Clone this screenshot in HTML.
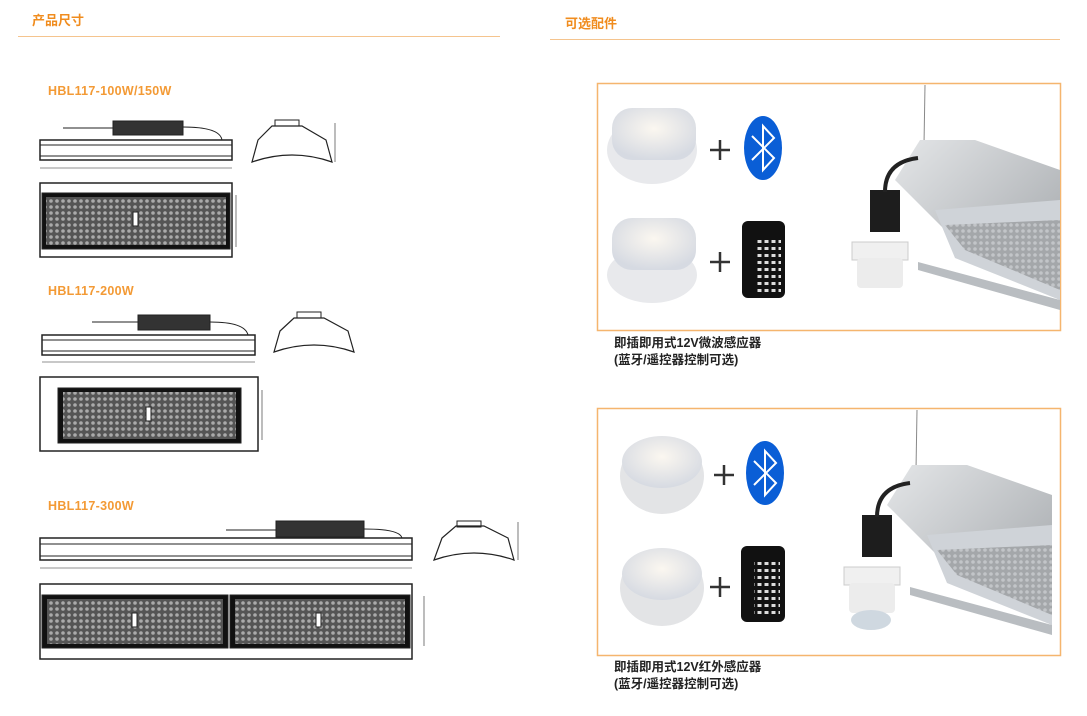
<!DOCTYPE html>
<html><head><meta charset="utf-8"><style>
body{margin:0;background:#fff;width:1087px;height:716px;overflow:hidden;position:relative;font-family:"Liberation Sans","Noto Sans CJK SC",sans-serif}
.t{position:absolute;color:#f08c1e;font-weight:bold;font-size:13px}
.m{position:absolute;color:#f39a35;font-weight:bold;font-size:12.5px;letter-spacing:.3px}
.c{position:absolute;color:#222;font-weight:bold;font-size:12.5px;line-height:17px}
</style></head><body>
<div class="t" style="left:32px;top:10px">产品尺寸</div>
<div class="t" style="left:565px;top:13px">可选配件</div>
<div class="m" style="left:48px;top:84px">HBL117-100W/150W</div>
<div class="m" style="left:48px;top:284px">HBL117-200W</div>
<div class="m" style="left:48px;top:499px">HBL117-300W</div>
<div class="c" style="left:614px;top:335px">即插即用式12V微波感应器<br>(蓝牙/遥控器控制可选)</div>
<div class="c" style="left:614px;top:659px">即插即用式12V红外感应器<br>(蓝牙/遥控器控制可选)</div>
<svg width="1087" height="716" style="position:absolute;left:0;top:0">
<defs>
<pattern id="led" width="6" height="6" patternUnits="userSpaceOnUse">
<rect width="6" height="6" fill="#555"/><circle cx="3" cy="3" r="1.8" fill="#aaa"/></pattern>
<pattern id="btn" width="7" height="7" patternUnits="userSpaceOnUse">
<rect width="7" height="7" fill="#111"/><rect x="1.5" y="2" width="4" height="3" fill="#ddd"/></pattern>
<radialGradient id="sen" cx="50%" cy="40%" r="60%"><stop offset="0" stop-color="#fbf7f0"/><stop offset="1" stop-color="#d6dae2"/></radialGradient>
<linearGradient id="met" x1="0" y1="0" x2="1" y2="1"><stop offset="0" stop-color="#e4e6e8"/><stop offset="1" stop-color="#9ea2a6"/></linearGradient>
</defs>
<line x1="18" y1="36.5" x2="500" y2="36.5" stroke="#f5c48e"/>
<line x1="550" y1="39.5" x2="1060" y2="39.5" stroke="#f5c48e"/>
<g fill="none" stroke="#222">
<rect x="113" y="121" width="70" height="14" fill="#333"/>
<line x1="63" y1="128" x2="113" y2="128"/><path d="M183 127 Q220 127 222 140"/>
<rect x="40" y="140" width="192" height="20" stroke-width="1.5"/><line x1="40" y1="145" x2="232" y2="145"/><line x1="40" y1="156" x2="232" y2="156"/>
<line x1="40" y1="168" x2="232" y2="168" stroke-width=".6"/>
<rect x="40" y="183" width="192" height="74" stroke-width="1.5"/>
<rect x="42" y="193" width="188" height="56" fill="#111"/>
<rect x="46" y="197" width="180" height="48" fill="url(#led)" stroke="none"/>
<rect x="133" y="212" width="5" height="14" fill="#fff"/>
<line x1="236" y1="195" x2="236" y2="247" stroke-width=".6"/>
<path d="M252 162 Q292 148 332 162 L326 140 L302 126 L272 126 L258 140 Z" stroke-width="1.2"/>
<rect x="275" y="120" width="24" height="6"/><line x1="335" y1="123" x2="335" y2="162" stroke-width=".6"/>
<rect x="138" y="315" width="72" height="15" fill="#333"/>
<line x1="92" y1="322" x2="138" y2="322"/><path d="M210 322 Q245 322 248 335"/>
<rect x="42" y="335" width="213" height="20" stroke-width="1.5"/><line x1="42" y1="340" x2="255" y2="340"/><line x1="42" y1="351" x2="255" y2="351"/>
<line x1="42" y1="362" x2="255" y2="362" stroke-width=".6"/>
<rect x="40" y="377" width="218" height="74" stroke-width="1.5"/>
<rect x="58" y="388" width="183" height="55" fill="#111"/>
<rect x="63" y="392" width="173" height="47" fill="url(#led)" stroke="none"/>
<rect x="146" y="407" width="5" height="14" fill="#fff"/>
<line x1="262" y1="390" x2="262" y2="440" stroke-width=".6"/>
<path d="M274 352 Q314 338 354 352 L348 331 L324 318 L294 318 L280 331 Z" stroke-width="1.2"/>
<rect x="297" y="312" width="24" height="6"/>
<rect x="276" y="521" width="88" height="16" fill="#333"/>
<line x1="226" y1="530" x2="276" y2="530"/><path d="M364 529 Q400 529 402 538"/>
<rect x="40" y="538" width="372" height="22" stroke-width="1.5"/><line x1="40" y1="544" x2="412" y2="544"/><line x1="40" y1="556" x2="412" y2="556"/>
<line x1="40" y1="568" x2="412" y2="568" stroke-width=".6"/>
<rect x="40" y="584" width="372" height="75" stroke-width="1.5"/>
<rect x="42" y="595" width="186" height="53" fill="#111"/><rect x="230" y="595" width="180" height="53" fill="#111"/>
<rect x="47" y="599" width="176" height="45" fill="url(#led)" stroke="none"/><rect x="235" y="599" width="170" height="45" fill="url(#led)" stroke="none"/>
<rect x="132" y="613" width="5" height="14" fill="#fff"/><rect x="316" y="613" width="5" height="14" fill="#fff"/>
<line x1="424" y1="596" x2="424" y2="646" stroke-width=".6"/>
<path d="M434 560 Q474 546 514 560 L508 538 L484 526 L456 526 L442 538 Z" stroke-width="1.2"/>
<rect x="457" y="521" width="24" height="6"/><line x1="518" y1="522" x2="518" y2="560" stroke-width=".6"/>
</g>
<rect x="597.5" y="83.5" width="463" height="247" fill="none" stroke="#f5b56e" stroke-width="1.5"/>
<rect x="597.5" y="408.5" width="463" height="247" fill="none" stroke="#f5b56e" stroke-width="1.5"/>
<ellipse cx="652" cy="150" rx="45" ry="34" fill="#e8e9ec"/>
<rect x="612" y="108" width="84" height="52" rx="20" fill="url(#sen)"/>
<ellipse cx="652" cy="275" rx="45" ry="28" fill="#e8e9ec"/>
<rect x="612" y="218" width="84" height="52" rx="20" fill="url(#sen)"/>
<g stroke="#333" stroke-width="2.5">
<line x1="710" y1="150" x2="730" y2="150"/><line x1="720" y1="140" x2="720" y2="160"/>
<line x1="710" y1="262" x2="730" y2="262"/><line x1="720" y1="252" x2="720" y2="272"/>
<line x1="714" y1="475" x2="734" y2="475"/><line x1="724" y1="465" x2="724" y2="485"/>
<line x1="710" y1="587" x2="730" y2="587"/><line x1="720" y1="577" x2="720" y2="597"/>
</g>
<g fill="#0a5ed6"><ellipse cx="763" cy="148" rx="19" ry="32"/><ellipse cx="765" cy="473" rx="19" ry="32"/></g>
<g fill="none" stroke="#fff" stroke-width="2">
<path d="M752 136 L774 158 L763 170 L763 126 L774 138 L752 160"/>
<path d="M754 461 L776 483 L765 495 L765 451 L776 463 L754 485"/>
</g>
<rect x="742" y="221" width="43" height="77" rx="6" fill="#111"/><rect x="755" y="236" width="26" height="56" fill="url(#btn)"/>
<rect x="741" y="546" width="44" height="76" rx="6" fill="#111"/><rect x="754" y="561" width="26" height="56" fill="url(#btn)"/>
<ellipse cx="662" cy="476" rx="42" ry="38" fill="#e3e4e6"/><ellipse cx="662" cy="462" rx="40" ry="26" fill="url(#sen)"/>
<ellipse cx="662" cy="588" rx="42" ry="38" fill="#e3e4e6"/><ellipse cx="662" cy="574" rx="40" ry="26" fill="url(#sen)"/>
<g id="lamp">
<line x1="925" y1="85" x2="924" y2="145" stroke="#888"/>
<polygon points="895,180 920,140 975,140 1060,170 1060,300 960,250 950,235" fill="url(#met)"/>
<polygon points="935,210 1060,200 1060,300 955,258" fill="#cfd3d8"/>
<polygon points="945,225 1060,220 1060,290 965,250" fill="url(#led)" opacity=".35"/>
<polygon points="918,262 1060,300 1060,310 918,270" fill="#b9bdc1"/>
<rect x="870" y="190" width="30" height="42" fill="#1d1d1d"/>
<path d="M885 192 Q885 162 918 158" fill="none" stroke="#222" stroke-width="4"/>
<rect x="852" y="242" width="56" height="18" fill="#f0f0f0" stroke="#ccc"/>
<rect x="857" y="258" width="46" height="30" rx="4" fill="#ececec"/>
</g>
<use href="#lamp" transform="translate(-8,325)"/>
<ellipse cx="871" cy="620" rx="20" ry="10" fill="#cfd8e0"/>
</svg>
</body></html>
